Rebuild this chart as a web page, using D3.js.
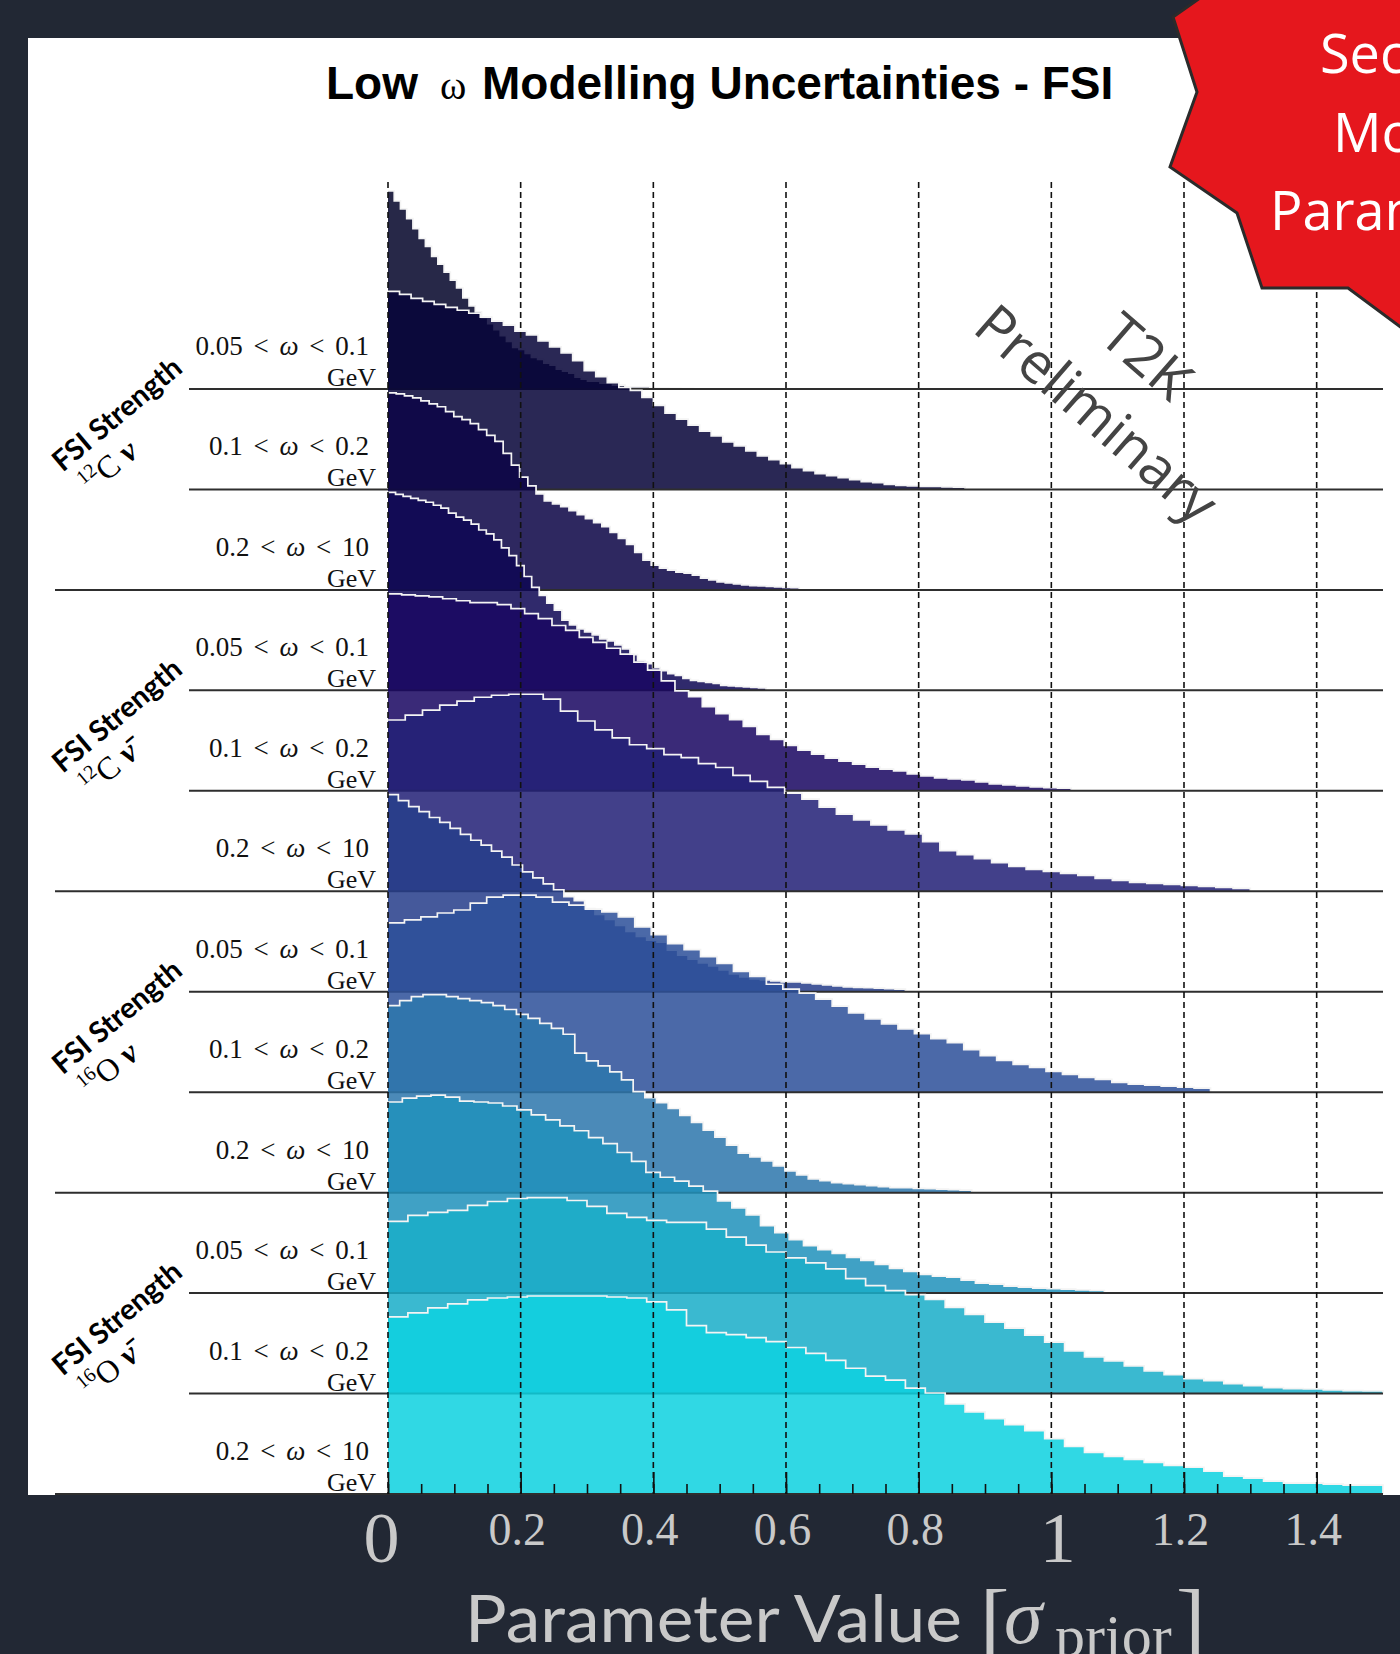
<!DOCTYPE html>
<html>
<head>
<meta charset="utf-8">
<script src="https://cdn.jsdelivr.net/npm/d3@7"></script>
<style>
  body { margin: 0; background: #222834; }
  svg { display: block; }
</style>
</head>
<body>
<svg id="chart" width="1400" height="1654"></svg>
<script>
// omega bins, one per ridge inside each target group
const omegaBins = ["0.05 < ω < 0.1", "0.1 < ω < 0.2", "0.2 < ω < 10"]
const nuclei = ["12", "12", "16", "16"]
const elements = ["C", "C", "O", "O"]
const beams = ["ν", "ν\u0304", "ν", "ν\u0304"]

// posterior histograms, 50 bins each from 0 to histMax, height in % of peak
const c12NuA = [100,95,91,86,81,76,72,67,63,59,55,51,46,42,39,36,33,30,27,24,21,20,18,16,15,13,12,10,9,8,6,5,4,4,3,3,2,2,1,1,1,1,0.5,0.5,0.5,0.3,0.3,0.2,0.2,0.1]
const c12NuB = [100,98.5,96.5,95,93.5,92,90.5,89,87,85,83,80,78,75,72,69,65,60,57,54,51.5,50,46.5,42.5,38.5,35.5,32.5,29.5,27,24,22,19.5,17,15,13,11,9.5,8,7,6,5,4,3.5,2.5,2,1.8,1.5,1.5,1.3,1.2]
const c12NuC = [99.5,99,98,97,95.5,94,92.5,90,87.5,86,84,81,78,75,69,63,57,52.5,48.5,45,43.5,42,40,38,36,34,32,29,26,23,19,15,12.5,11,10,9,8.5,7.5,6,5,4,3.5,3,2.5,2.2,2,1.8,1.5,1.3,1.2]
const c12NubarA = [100,99,98,97,96,95,93.5,92,89.5,87.5,86,84,81,79,76,72,68,63,57.5,52,48,44,40.5,35.5,33,31,29.5,28,26,25,23,21,18,15,13.5,11.5,10,8.5,7.5,6,5,4.5,4,3.5,2.5,2.2,2,1.7,1.5,1.2]
const c12NubarB = [99.5,99,98.5,98,97,96,95,95,94,92,89.5,87,83.5,81,77.5,75,72,69,65,61,55.5,50.5,47.5,42.5,39,36,32.5,28.5,26,23,20.5,18.5,16.5,15,13.5,12,11,10,8.5,7.5,6.5,6,5.5,4.5,3.5,3,2.5,2,1.6,1.3]
const c12NubarC = [86.5,89,91.5,94,96,98,99,99.5,99.5,97,91,86,81.5,77.5,74,72,69,67.5,64.5,62.5,58.5,55.5,52.5,49.5,46.5,42.5,39,36,33.5,31,29,25,20.5,18.5,16.5,14.5,12.5,11,10,9,8,6.5,5.5,4.5,4,3.5,3,2.5,2,1.5]
const o16NuA = [99.5,96.5,93.5,91,88,85.5,82.5,79.5,76.5,74,71,68,64,60.5,57.5,54.5,51.5,48,46,42,39,36.5,33.5,30.5,28,26,25,21,18.5,16.5,14.5,13,11,9,7.5,6.5,6,5.5,5,5,4.5,4,3.5,3,2.5,2.2,2,1.8,1.5,1.3]
const o16NuB = [85.5,87,88.5,90.5,92,95.5,98.5,99.5,99.5,98.5,96,94.5,92.5,91,88.5,83.5,79.5,75,72,68.5,65,61,58.5,54.5,52,50,47,43.5,40,37,34.5,32,29.5,27,25,21.5,18.5,16,14,12.5,10.5,9,7.5,6.5,5,4,3.5,3,2.5,2]
const o16NuC = [94.5,97,99,100,100,99,98,97,96,94.5,92.5,90,88,85.5,83,80,70.5,66.5,64,61,57,51,48,45.5,42.5,39,35.5,31.5,28,24,20,18,16,13.5,11,9,7,6,5,4.5,4,3.5,3,2.5,2.5,2.2,2,1.8,1.5,1.3]
const o16NubarA = [96.5,98.5,99.5,100,99,97,96.5,96,94.5,92.5,90,87.5,84.5,82,78.5,75.5,71,66.5,61,58.5,56.5,54,51.5,46.5,43,39.5,34,30.5,27,24,22,20,18,16.5,14.5,12.5,11,9.5,8.5,8,6.5,5,4.5,3.5,3,2.5,2.2,2,1.6,1.3]
const o16NubarB = [87,90,91.5,92.5,95,97,98.5,99,99,97.5,94.5,91,89,87.5,86.5,86.5,83,79,75,71.5,68.5,66,63,58,54.5,52,50,47.5,43.5,40,36,33,29.5,26,21.5,18.5,16.5,14,11.5,9.5,7.5,6.5,5,4,3,2.5,2.3,1.8,1.5,1.3]
const o16NubarC = [89.5,91.5,94,96,98,99,99.5,100,100,100,100,99.5,99,97,93,85,81.5,80.5,79,77,74,71,67.5,63.5,59.5,57.5,53.5,51,45.5,41.5,38,35,32,28,24,21,19,17.5,16,14.5,13.5,11.5,9,8,6.5,5.5,5.5,5,4.5,4.5]

const histograms = [c12NuA, c12NuB, c12NuC, c12NubarA, c12NubarB, c12NubarC,
                    o16NuA, o16NuB, o16NuC, o16NubarA, o16NubarB, o16NubarC]
const histMax = [0.47, 0.87, 0.62, 0.57, 1.03, 1.30, 0.78, 1.24, 0.88, 1.08, 1.50, 1.50]
const fillColours = ["#03052a", "#070539", "#0c0546", "#0e0754", "#1a0762", "#232177",
                     "#263e8a", "#2d509a", "#2d77ac", "#2191bb", "#1aadc8", "#0ed2e0"]

const majorTicks = [0, 0.2, 0.4, 0.6, 0.8, 1, 1.2, 1.4]
const minorTicks = d3.range(0, 1.5, 0.05)
const tickLabels = ["0", "0.2", "0.4", "0.6", "0.8", "1", "1.2", "1.4"]

const svg = d3.select("#chart")

// white slide panel
svg.append("rect").attr("x", 28).attr("y", 38).attr("width", 1372).attr("height", 1457).attr("fill", "#fff")

const x = d3.scaleLinear().domain([0, 1.5]).range([388, 1383])
const rowY = d3.scalePoint().domain(d3.range(12)).range([389, 1494])
const h = d3.scaleLinear().domain([0, 100]).range([0, 198])

const area = d3.area().curve(d3.curveStepAfter)
  .x(d => x(d.x)).y0(d => d.base).y1(d => d.base - h(d.v))
const line = d3.line().curve(d3.curveStepAfter)
  .x(d => x(d.x)).y(d => d.base - h(d.v))

histograms.forEach((vals, i) => {
  const base = rowY(i)
  const w = histMax[i] / vals.length
  const pts = vals.map((v, k) => ({x: k * w, v: v, base: base}))
  pts.push({x: histMax[i], v: vals[vals.length - 1], base: base})

  svg.append("path").datum(pts)
    .attr("d", area)
    .attr("fill", fillColours[i])
    .attr("fill-opacity", 0.86)

  const outline = pts.concat([{x: histMax[i], v: 0, base: base}])
  svg.append("path").datum(outline)
    .attr("d", line)
    .attr("fill", "none")
    .attr("stroke", "#f4f4f4")
    .attr("stroke-width", 1.7)

  // ridge baseline, longer under each target group
  svg.append("line")
    .attr("x1", i % 3 == 2 ? 55 : 189).attr("x2", x(1.5))
    .attr("y1", base).attr("y2", base)
    .attr("stroke", "#2e2e2e").attr("stroke-width", 2)
})

// dashed grid
svg.append("g").selectAll("line")
  .data(majorTicks)
  .join("line")
  .attr("x1", d => x(d)).attr("x2", d => x(d))
  .attr("y1", 182).attr("y2", rowY(11))
  .attr("stroke", "#111").attr("stroke-width", 1.6)
  .attr("stroke-dasharray", "6,4")

// ticks pointing up from the bottom line
const axisG = svg.append("g").attr("transform", `translate(0,${rowY(11)})`)
axisG.append("g")
  .call(d3.axisBottom(x).tickValues(minorTicks).tickSize(-10).tickFormat(""))
  .call(g => g.select(".domain").remove())
  .selectAll("line").attr("stroke", "#111").attr("stroke-width", 1.6)
axisG.append("g")
  .call(d3.axisBottom(x).tickValues(majorTicks).tickSize(-22).tickFormat((d, i) => tickLabels[i]))
  .call(g => g.select(".domain").remove())
  .call(g => g.selectAll("line").attr("stroke", "#111").attr("stroke-width", 1.6))
  .call(g => g.selectAll("text")
    .attr("fill", "#c9c9c9")
    .attr("font-family", "'Liberation Serif', serif")
    .attr("font-size", d => (d == 0 || d == 1) ? 72 : 46)
    .attr("dy", null)
    .attr("dx", d => d == 0 ? -7 : d == 1 ? 6 : -4)
    .attr("y", d => (d == 0 || d == 1) ? 68 : 51))

// axis title
svg.append("text").attr("x", 465).attr("y", 1642).attr("fill", "#c9c9c9")
  .attr("font-family", "Lato, sans-serif").attr("font-size", 66)
  .attr("textLength", 497).attr("lengthAdjust", "spacingAndGlyphs")
  .text("Parameter Value")
const unit = svg.append("text").attr("y", 1651).attr("fill", "#c9c9c9")
  .attr("font-family", "'Liberation Serif', serif")
unit.append("tspan").attr("x", 980).attr("font-size", 88).text("[")
unit.append("tspan").attr("x", 1004).attr("y", 1643).attr("font-style", "italic").attr("font-size", 78).text("σ")
unit.append("tspan").attr("x", 1055).attr("y", 1656).attr("font-size", 60).text("prior")
unit.append("tspan").attr("x", 1176).attr("y", 1651).attr("font-size", 88).text("]")

// title
const title = svg.append("text").attr("y", 99).attr("fill", "#000")
  .attr("font-family", "'Liberation Sans', Arial, sans-serif").attr("font-weight", "bold").attr("font-size", 46)
title.append("tspan").attr("x", 326).text("Low")
title.append("tspan").attr("x", 440).attr("font-family", "'Liberation Serif', serif")
  .attr("font-weight", "normal").attr("font-size", 40).text("ω")
title.append("tspan").attr("x", 482).text("Modelling Uncertainties - FSI")

// row labels
histograms.forEach((vals, i) => {
  const base = rowY(i)
  const t = svg.append("text").attr("x", 369).attr("y", base - 34)
    .attr("text-anchor", "end").attr("fill", "#111")
    .attr("font-family", "'Liberation Serif', serif").attr("font-size", 27)
    .attr("word-spacing", 4)
  const parts = omegaBins[i % 3].split("ω")
  t.append("tspan").text(parts[0])
  t.append("tspan").attr("font-style", "italic").text("ω")
  t.append("tspan").text(parts[1])
  svg.append("text").attr("x", 376).attr("y", base - 3)
    .attr("text-anchor", "end").attr("fill", "#111")
    .attr("font-family", "'Liberation Serif', serif").attr("font-size", 26)
    .text("GeV")
})

// group labels
nuclei.forEach((n, g) => {
  const cy = rowY(g * 3) + 24
  const lg = svg.append("g").attr("transform", `translate(116,${cy}) rotate(-40)`)
  lg.append("text").attr("text-anchor", "middle").attr("dominant-baseline", "central")
    .attr("font-family", "Lato, sans-serif").attr("font-weight", "bold").attr("font-size", 29)
    .attr("fill", "#000").text("FSI Strength")
  const t2 = lg.append("text").attr("x", -40).attr("y", 36)
    .attr("text-anchor", "middle").attr("dominant-baseline", "central")
    .attr("font-family", "'Liberation Serif', serif").attr("font-size", 32).attr("fill", "#000")
  t2.append("tspan").attr("font-size", 20).attr("dy", -9).text(n)
  t2.append("tspan").attr("dy", 9).text(elements[g] + " ")
  t2.append("tspan").attr("font-style", "italic").attr("font-weight", "bold").text(beams[g])
})

// watermark
const wm = svg.append("g").attr("transform", "translate(1114,394) rotate(41)")
  .attr("font-family", "'Open Sans', sans-serif").attr("font-size", 56).attr("fill", "#444")
  .attr("text-anchor", "middle")
wm.append("text").attr("y", -30).text("T2K")
wm.append("text").attr("y", 46).text("Preliminary")

// red badge
const badge = [[1200, -2], [1173, 17], [1197, 92], [1170, 167], [1237, 213], [1262, 288], [1348, 288], [1402, 328], [1402, -2]]
svg.append("path").attr("d", d3.line()(badge) + "Z")
  .attr("fill", "#e5171d").attr("stroke", "#2b2b2b").attr("stroke-width", 3)
const bt = svg.append("g").attr("font-family", "'Open Sans', sans-serif").attr("font-size", 54).attr("fill", "#fff")
bt.append("text").attr("x", 1320).attr("y", 73).text("Second")
bt.append("text").attr("x", 1333).attr("y", 152).text("Model")
bt.append("text").attr("x", 1270).attr("y", 230).text("Parameters")
</script>
</body>
</html>
